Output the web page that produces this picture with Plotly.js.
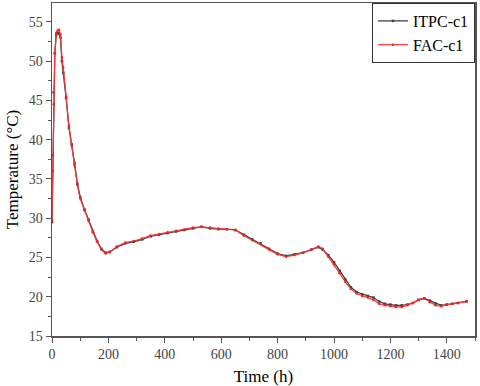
<!DOCTYPE html>
<html>
<head>
<meta charset="utf-8">
<script src="https://cdn.plot.ly/plotly-3.0.1.min.js"></script>
<style>
  html, body { margin: 0; padding: 0; background: #fff; }
  #chart { width: 480px; height: 386px; }
</style>
</head>
<body>
<div id="chart"></div>
<script>
// time (h) for both runs
var timeItpc = [0, 3, 6, 10, 15, 20, 25, 30, 35, 40, 50, 60, 70, 80, 90, 100, 115, 130, 145, 160, 175, 190, 205, 230, 260, 290, 320, 350, 380, 410, 440, 470, 500, 530, 560, 590, 620, 650, 680, 710, 740, 770, 800, 830, 860, 890, 920, 945, 960, 980, 1000, 1020, 1040, 1060, 1080, 1100, 1120, 1140, 1160, 1180, 1200, 1220, 1240, 1260, 1280, 1300, 1320, 1340, 1360, 1380, 1400, 1420, 1440, 1470];
var tempItpc = [29.5, 38.0, 46.0, 51.0, 53.3, 53.6, 53.5, 53.0, 50.0, 48.5, 45.3, 41.5, 39.4, 37.0, 34.4, 32.7, 31.1, 29.8, 28.3, 27.1, 26.1, 25.6, 25.7, 26.3, 26.8, 27.0, 27.3, 27.7, 27.9, 28.1, 28.3, 28.5, 28.7, 28.9, 28.7, 28.6, 28.6, 28.5, 27.9, 27.3, 26.8, 26.1, 25.5, 25.2, 25.4, 25.6, 26.0, 26.3, 26.0, 25.3, 24.4, 23.3, 22.2, 21.2, 20.6, 20.3, 20.1, 19.9, 19.4, 19.1, 19.0, 18.9, 18.9, 19.0, 19.2, 19.6, 19.8, 19.5, 19.1, 18.9, 19.0, 19.1, 19.2, 19.4];

var timeFac = [0, 3, 6, 10, 15, 20, 25, 30, 35, 40, 50, 60, 70, 80, 90, 100, 115, 130, 145, 160, 175, 190, 205, 230, 260, 290, 320, 350, 380, 410, 440, 470, 500, 530, 560, 590, 620, 650, 680, 710, 740, 770, 800, 830, 860, 890, 920, 945, 960, 980, 1000, 1020, 1040, 1060, 1080, 1100, 1120, 1140, 1160, 1180, 1200, 1220, 1240, 1260, 1280, 1300, 1320, 1340, 1360, 1380, 1400, 1420, 1440, 1470];
var tempFac = [29.8, 36.0, 44.5, 51.0, 53.6, 53.9, 54.0, 53.4, 50.5, 49.2, 45.5, 41.8, 39.2, 36.7, 34.2, 32.5, 31.0, 29.7, 28.2, 27.0, 26.0, 25.5, 25.7, 26.4, 26.9, 27.1, 27.4, 27.8, 28.0, 28.2, 28.4, 28.6, 28.8, 28.9, 28.8, 28.7, 28.6, 28.5, 27.8, 27.2, 26.7, 26.0, 25.4, 25.1, 25.3, 25.6, 26.0, 26.4, 26.1, 25.1, 24.1, 23.0, 21.9, 21.0, 20.4, 20.1, 19.9, 19.6, 19.1, 18.9, 18.8, 18.7, 18.7, 18.9, 19.2, 19.6, 19.8, 19.3, 18.9, 18.8, 19.0, 19.1, 19.2, 19.4];

var xTicks = [0, 200, 400, 600, 800, 1000, 1200, 1400];
var yTicks = [15, 20, 25, 30, 35, 40, 45, 50, 55];

var serif = "'Liberation Serif', 'Times New Roman', serif";

var traces = [];
traces.push({
    x: timeItpc,
    y: tempItpc,
    type: 'scatter',
    mode: 'lines+markers',
    name: 'ITPC-c1',
    line: { color: 'rgb(64, 64, 64)', width: 1.3 },
    marker: { color: 'rgb(64, 64, 64)', size: 2.5, symbol: 'square' }
});
traces.push({
    x: timeFac,
    y: tempFac,
    type: 'scatter',
    mode: 'lines+markers',
    name: 'FAC-c1',
    line: { color: 'rgb(255, 50, 50)', width: 1.2 },
    marker: { color: 'rgb(255, 30, 30)', size: 2.5, symbol: 'circle' }
});

var layout = {
    width: 480,
    height: 386,
    margin: { l: 52, r: 5, t: 3, b: 50 },
    paper_bgcolor: '#fff',
    plot_bgcolor: '#fff',
    font: { family: serif, color: '#000' },
    showlegend: true,
    legend: {
        x: 1, y: 1, xanchor: 'right', yanchor: 'top',
        bgcolor: '#fff', bordercolor: '#333', borderwidth: 1,
        font: { family: serif, size: 16, color: '#000' },
        tracegroupgap: 0
    },
    xaxis: {
        title: { text: 'Time (h)', font: { family: serif, size: 17, color: '#000' }, standoff: 9 },
        range: [0, 1500],
        tickvals: xTicks,
        ticktext: xTicks.map(String),
        tickfont: { family: serif, size: 14, color: '#444' },
        ticks: 'outside', ticklen: 5, tickwidth: 1, tickcolor: '#555',
        minor: { dtick: 100, ticks: 'outside', ticklen: 3, tickcolor: '#555', showgrid: false },
        showline: true, linecolor: '#555', linewidth: 1.5, mirror: true,
        showgrid: false, zeroline: false
    },
    yaxis: {
        title: { text: 'Temperature (°C)', font: { family: serif, size: 17, color: '#000' }, standoff: 6 },
        range: [15, 57.4],
        tickvals: yTicks,
        ticktext: yTicks.map(String),
        tickfont: { family: serif, size: 14, color: '#444' },
        ticks: 'outside', ticklen: 5, tickwidth: 1, tickcolor: '#555',
        minor: { dtick: 2.5, tick0: 15, ticks: 'outside', ticklen: 3, tickcolor: '#555', showgrid: false },
        showline: true, linecolor: '#555', linewidth: 1.5, mirror: true,
        showgrid: false, zeroline: false
    }
};

Plotly.newPlot('chart', traces, layout, { displayModeBar: false, staticPlot: true });
</script>
</body>
</html>
